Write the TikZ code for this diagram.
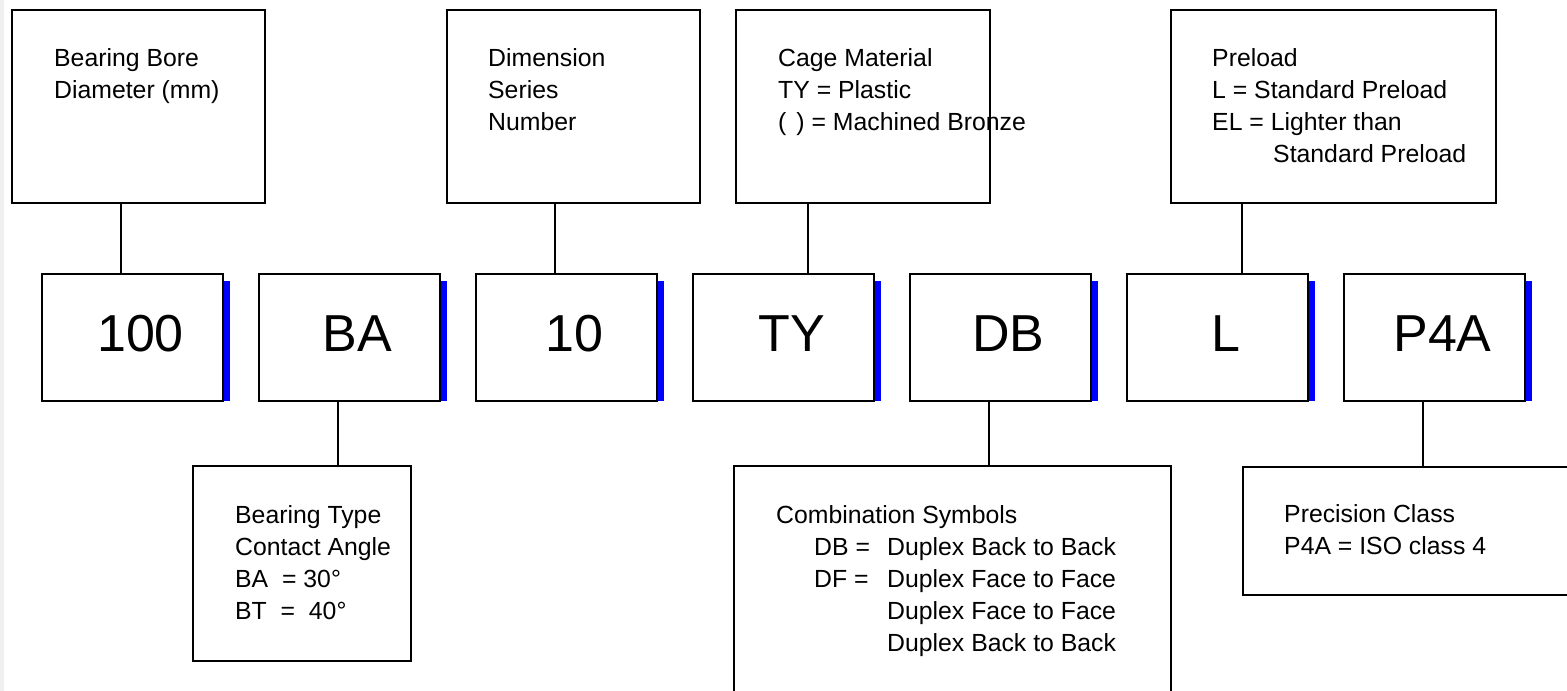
\documentclass[tikz,border=0pt]{standalone}
\usepackage{fontspec}
\setmainfont{Liberation Sans}
\tikzset{
    infobox/.style = {draw, line width=2pt, inner sep=0pt, outer sep=0pt},
    infotext/.style = {anchor=north west, inner sep=0pt, align=left, font=\fontsize{24.8}{32}\selectfont},
    codebox/.style = {draw, line width=2pt, inner sep=0pt, outer sep=0pt, minimum width=181pt, minimum height=127pt},
    codetext/.style = {font=\fontsize{52}{60}\selectfont, xshift=8pt, yshift=3.5pt},
    link/.style = {line width=2pt}
}
\begin{document}
\begin{tikzpicture}[x=1pt, y=-1pt]
    \useasboundingbox (0, 0) rectangle (1567, 691);
    \fill [black!6] (0, 0) rectangle (4, 691);
    % Code boxes
    \foreach \t [count=\i] in {100, BA, 10, TY, DB, L, P4A}{
        \node [codebox, label={[codetext]center:\t}] (c\i) at ({132.5+217*(\i-1)}, 337.5) {};
        \fill [blue] ([xshift=1pt, yshift=-7pt]c\i.north east) rectangle ([xshift=6.5pt]c\i.south east);
    }
    % Top boxes
    \node [infobox, minimum width=253pt, minimum height=193pt] (bore) at (138.5, 106.5) {};
    \node [infobox, minimum width=253pt, minimum height=193pt] (series) at (573.5, 106.5) {};
    \node [infobox, minimum width=254pt, minimum height=193pt] (cage) at (863, 106.5) {};
    \node [infobox, minimum width=325pt, minimum height=193pt] (preload) at (1333.5, 106.5) {};
    \node [infotext] (boretext) at (54, 48.5) {Bearing Bore\\Diameter (mm)};
    \node [infotext] (seriestext) at (488, 48.5) {Dimension\\Series\\Number};
    \node [infotext] (cagetext) at (778, 48.5) {Cage Material\\TY = Plastic\\(\kern10pt) = Machined Bronze};
    \node [infotext] (preloadtext) at (1212, 48.5) {Preload\\L = Standard Preload\\EL = Lighter than\\\hspace*{61pt}Standard Preload};
    % Bottom boxes
    \node [infobox, minimum width=218pt, minimum height=195pt] (btype) at (302, 563.5) {};
    \node [infobox, minimum width=437pt, minimum height=254pt] (combo) at (952.5, 593) {};
    \node [infobox, minimum width=357pt, minimum height=128pt] (prec) at (1421.5, 531) {};
    \node [infotext] (btypetext) at (235, 505.5) {Bearing Type\\Contact Angle\\BA\ \ = 30°\\BT\ \ =\ \ 40°};
    \node [infotext] (combotext) at (776, 505.5) {Combination Symbols\\
        \hspace*{38pt}\makebox[73pt][l]{DB =}Duplex Back to Back\\
        \hspace*{38pt}\makebox[73pt][l]{DF =}Duplex Face to Face\\
        \hspace*{111pt}Duplex Face to Face\\
        \hspace*{111pt}Duplex Back to Back};
    \node [infotext] (prectext) at (1284, 504.5) {Precision Class\\P4A = ISO class 4};
    % Links
    \foreach \src/\dst/\x in {bore/c1/121, series/c3/555, cage/c4/808, preload/c6/1242}
        \draw [link] (\src.south -| \x,0) -- (\dst.north -| \x,0);
    \foreach \src/\dst/\x in {c2/btype/338, c5/combo/989, c7/prec/1423}
        \draw [link] (\src.south -| \x,0) -- (\dst.north -| \x,0);
\end{tikzpicture}
\end{document}
